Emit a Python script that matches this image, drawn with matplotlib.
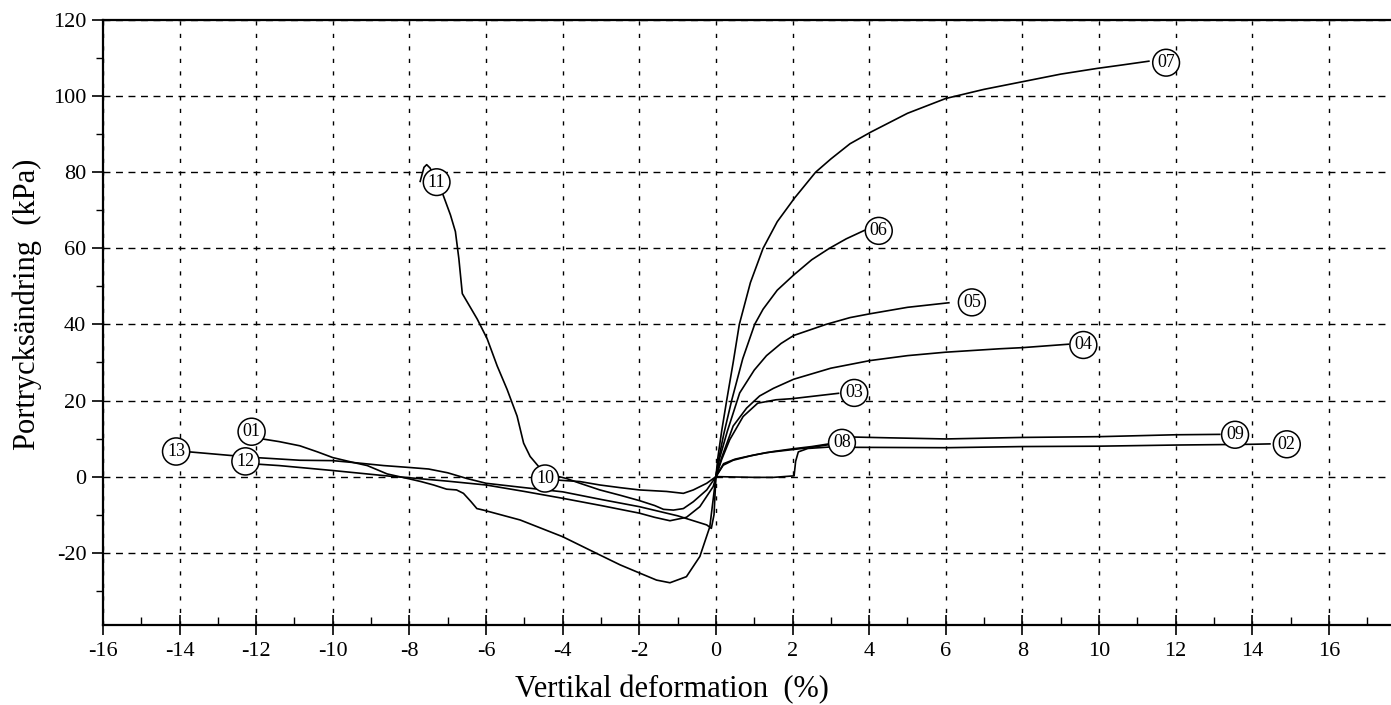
import matplotlib
matplotlib.use("Agg")
import matplotlib.pyplot as plt
from matplotlib.ticker import MultipleLocator

plt.rcParams["font.family"] = ["Liberation Serif", "DejaVu Serif"]
plt.rcParams["axes.unicode_minus"] = False

# curves: vertical deformation (%) vs pore pressure change (kPa)
X01 = [-11.9, -11.4, -10.86, -10.4, -10.0, -9.46, -9.1, -8.58, -8.0, -7.7, -7.37, -7.03,
       -6.77, -6.59, -6.4, -6.24, -6.07, -5.11, -4.0, -3.03, -2.5, -1.98, -1.55, -1.2,
       -0.77, -0.42, -0.16, 0]
Y01 = [10, 9.2, 8.1, 6.5, 5.0, 3.7, 2.9, 0.7, -0.6, -1.3, -2.2, -3.3, -3.5, -4.4, -6.5,
       -8.4, -8.8, -11.4, -15.8, -20.6, -23.2, -25.4, -27.2, -27.9, -26.3, -21, -13.2, 0]
X02 = [0, 0.5, 1.0, 1.5, 2.04, 2.08, 2.15, 2.4, 3.0, 3.6, 6.0, 8.0, 10.0, 12.0, 14.0, 14.46]
Y02 = [0, -0.1, -0.2, -0.2, 0.2, 4.0, 6.5, 7.4, 7.8, 7.7, 7.6, 7.9, 8.0, 8.3, 8.5, 8.6]
X03 = [0, 0.15, 0.36, 0.71, 1.09, 1.57, 2.0, 2.6, 3.2]
Y03 = [0, 4.5, 9.7, 15.8, 19.3, 20.2, 20.5, 21.2, 21.9]
X04 = [0, 0.15, 0.45, 0.8, 1.14, 1.5, 2.03, 3.0, 4.02, 5.0, 5.99, 7.4, 8.0, 9.2]
Y04 = [0, 5, 13.3, 18, 21.2, 23.2, 25.6, 28.5, 30.5, 31.8, 32.7, 33.6, 33.9, 34.8]
X05 = [0, 0.1, 0.3, 0.62, 1.0, 1.32, 1.7, 2.03, 2.87, 3.5, 4.02, 5.0, 6.08]
Y05 = [0, 5, 12, 22, 28, 31.8, 35, 37.1, 40, 41.8, 42.8, 44.5, 45.7]
X06 = [0, 0.08, 0.2, 0.41, 0.7, 1.01, 1.23, 1.6, 2.03, 2.5, 2.96, 3.4, 3.87]
Y06 = [0, 5, 11, 20, 31, 40, 44, 49, 53, 57, 60, 62.5, 64.7]
X07 = [0, 0.05, 0.15, 0.28, 0.45, 0.61, 0.9, 1.23, 1.6, 2.05, 2.6, 3.0, 3.5, 4.05,
       5.0, 6.0, 7.0, 8.0, 9.0, 9.95, 10.6, 11.3]
Y07 = [0, 5, 12, 20, 30, 40, 51, 60, 67, 73.2, 80, 83.5, 87.5, 90.6, 95.5, 99.4,
       101.8, 103.8, 105.8, 107.3, 108.2, 109.2]
X08 = [0, 0.2, 0.5, 1.0, 1.5, 2.0, 2.5, 2.95]
Y08 = [0, 3.4, 4.6, 5.7, 6.6, 7.3, 7.9, 8.6]
X09 = [0, 0.19, 0.45, 0.88, 1.31, 2.0, 2.5, 2.95, 3.6, 4.5, 6.0, 8.0, 10.0, 12.0, 13.15]
Y09 = [0, 3.0, 4.3, 5.4, 6.3, 7.1, 7.7, 8.4, 10.4, 10.2, 9.9, 10.3, 10.5, 11.0, 11.1]
X10 = [-4.16, -3.55, -3.03, -2.5, -2.0, -1.29, -0.85, -0.59, -0.24, 0]
Y10 = [-0.9, -1.3, -2.2, -2.9, -3.5, -3.9, -4.4, -3.5, -1.75, 0]
X11 = [-7.72, -7.62, -7.55, -7.46, -7.29, -7.12, -6.93, -6.8, -6.71, -6.62, -6.23,
       -5.97, -5.71, -5.45, -5.19, -5.02, -4.85, -4.59, -4.3, -3.9, -3.55, -3.03, -2.5,
       -2.0, -1.6, -1.37, -1.11, -0.85, -0.59, -0.24, 0]
Y11 = [77.6, 81.3, 82, 81.1, 77.4, 74, 68.8, 64.4, 57.3, 48.1, 41.4, 36.2, 29.1, 22.9,
       15.9, 8.8, 5.3, 2.2, 0.5, -0.5, -1.75, -3.5, -4.9, -6.3, -7.6, -8.6, -8.8, -8.4,
       -6.6, -3.5, 0]
X12 = [-12.0, -11.4, -10.86, -10.0, -9.1, -8.5, -8.0, -7.0, -6.0, -5.0, -4.0, -3.0,
       -2.0, -1.6, -1.2, -0.77, -0.42, -0.07, 0]
Y12 = [3.3, 2.9, 2.4, 1.6, 0.7, 0.1, -0.3, -1.2, -2.2, -3.9, -5.7, -7.6, -9.6, -10.7,
       -11.6, -10.7, -7.9, -2.6, 0]
X13 = [-13.74, -12.6, -12.0, -10.86, -10.0, -9.46, -8.67, -8.0, -7.5, -7.0, -6.5, -6.0,
       -5.0, -4.0, -3.0, -2.0, -1.0, -0.24, -0.12, -0.05, 0]
Y13 = [6.5, 5.5, 5.0, 4.3, 4.2, 3.7, 2.9, 2.4, 2.0, 1.0, -0.5, -1.75, -2.9, -4.0, -6.0,
       -7.9, -10.3, -12.7, -13.6, -10, 0]

CURVES = [(X01, Y01), (X02, Y02), (X03, Y03), (X04, Y04), (X05, Y05), (X06, Y06),
          (X07, Y07), (X08, Y08), (X09, Y09), (X10, Y10), (X11, Y11), (X12, Y12),
          (X13, Y13)]

# circled test numbers at the curve ends
LABEL_NAMES = ["01", "02", "03", "04", "05", "06", "07", "08", "09", "10", "11", "12", "13"]
LABEL_X = [-12.12, 14.9, 3.61, 9.59, 6.68, 4.25, 11.75, 3.29, 13.55, -4.46, -7.29, -12.28, -14.09]
LABEL_Y = [11.8, 8.5, 22.0, 34.6, 45.8, 64.6, 108.8, 8.9, 11.0, -0.5, 77.4, 4.0, 6.6]

fig = plt.figure(figsize=(13.91, 7.05), dpi=100)
ax = fig.add_axes([0.074, 0.1135, 0.926, 0.858])

for x, y in CURVES:
    ax.plot(x, y, color="black", lw=1.2, solid_joinstyle="round", zorder=3)

for name, lx, ly in zip(LABEL_NAMES, LABEL_X, LABEL_Y):
    ax.text(lx, ly, name, ha="center", va="center", fontsize=13, zorder=5,
            bbox=dict(boxstyle="circle,pad=0.25", fc="white", ec="black", lw=1.1))

ax.set_xlim(-16, 17.62)
ax.set_ylim(-39, 120)
ax.xaxis.set_major_locator(MultipleLocator(2))
ax.xaxis.set_minor_locator(MultipleLocator(1))
ax.yaxis.set_major_locator(MultipleLocator(20))
ax.yaxis.set_minor_locator(MultipleLocator(10))

ax.xaxis.grid(True, which="major", color="black", lw=1.0, ls=(0, (3, 6)))
ax.yaxis.grid(True, which="major", color="black", lw=1.0, ls=(0, (5, 4)))
ax.set_axisbelow(True)

ax.spines["right"].set_visible(False)
for side in ("top", "left", "bottom"):
    ax.spines[side].set_linewidth(1.6)

ax.tick_params(axis="x", which="major", direction="inout", length=14, width=1.2,
               pad=5, labelsize=16)
ax.tick_params(axis="x", which="minor", direction="in", length=6, width=1.0)
ax.tick_params(axis="y", which="major", direction="out", length=8, width=1.2,
               pad=4, labelsize=16)
ax.tick_params(axis="y", which="minor", direction="out", length=5, width=1.0)

ax.set_xlabel("Vertikal deformation  (%)", fontsize=22)
ax.xaxis.set_label_coords(0.442, -0.082)
ax.set_ylabel("Portrycksändring  (kPa)", fontsize=22)
ax.yaxis.set_label_coords(-0.047, 0.53)

fig.savefig("out.png", dpi=100)
